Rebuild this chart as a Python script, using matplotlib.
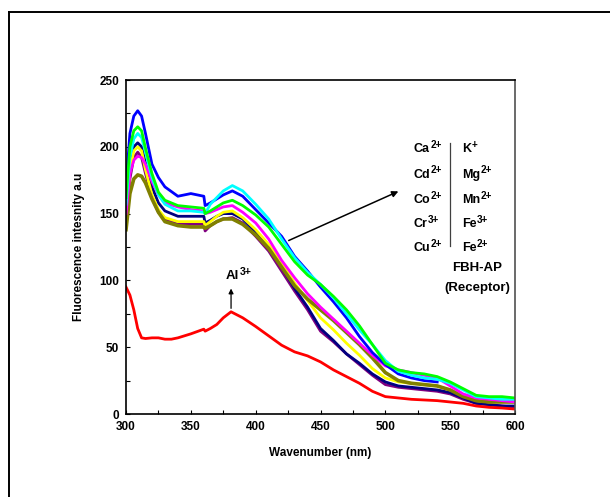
import numpy as np
import matplotlib
matplotlib.use('Agg')
import matplotlib.pyplot as plt
from matplotlib.lines import Line2D
from matplotlib.transforms import IdentityTransform

plt.rcParams['font.family'] = ['Liberation Sans', 'DejaVu Sans']
plt.rcParams['font.weight'] = 'bold'

# wavelength grid (nm) shared by the receptor + ion curves
wl = [300, 303, 306, 309, 312, 315, 320, 325, 330, 340, 350, 360, 361, 365, 370, 375, 382, 390,
      400, 410, 420, 430, 440, 450, 460, 470, 480, 490, 500, 510, 520, 530, 540, 550, 560, 570,
      580, 590, 600]

blue = [172, 210, 223, 227, 223, 210, 187, 177, 170, 163, 165, 163, 156, 158, 161, 164, 167, 163,
        153, 143, 133, 118, 107, 95, 84, 72, 58, 46, 37, 30, 27, 25, 24]
cyan = [157, 192, 206, 210, 207, 196, 177, 164, 157, 152, 152, 151, 150, 157, 162, 167, 171, 167,
        157, 146, 131, 117, 106, 97, 87, 75, 63, 52, 40, 32, 29, 27, 26, 23, 18, 13, 12, 11, 11]
green = [162, 200, 212, 215, 212, 199, 180, 166, 160, 156, 155, 154, 150, 152, 155, 158, 160, 156,
         149, 140, 127, 114, 104, 97, 88, 78, 66, 52, 38, 33, 31, 30, 28, 24, 19, 14, 13, 13, 12]
navy = [150, 186, 200, 203, 200, 188, 170, 158, 152, 148, 148, 148, 143, 145, 148, 150, 150, 146,
        136, 125, 110, 94, 80, 64, 55, 45, 38, 30, 24, 21, 20, 19, 18, 16, 12, 8, 7, 6, 6]
yellow = [145, 182, 197, 200, 197, 183, 164, 153, 147, 144, 144, 144, 141, 144, 148, 151, 152, 147,
          138, 127, 113, 98, 85, 72, 63, 53, 44, 34, 27, 24, 23, 22, 21, 18, 14, 10, 9, 9, 9]
magenta = [150, 180, 190, 193, 192, 187, 174, 164, 158, 155, 153, 152, 150, 151, 153, 155, 156, 151,
           143, 131, 115, 102, 90, 80, 71, 62, 53, 44, 36, 33, 31, 29, 27, 21, 15, 12, 11, 10, 9]
olive = [138, 165, 176, 179, 178, 173, 161, 151, 144, 141, 140, 140, 139, 141, 144, 146, 146, 142,
         134, 124, 110, 96, 86, 78, 70, 61, 52, 42, 31, 25, 23, 22, 21, 18, 13, 10, 9, 9, 9]
purple = [140, 176, 192, 196, 192, 180, 162, 151, 146, 142, 142, 142, 137, 141, 144, 146, 147, 143,
          133, 122, 107, 92, 78, 62, 54, 45, 37, 29, 22, 20, 19, 18, 17, 15, 11, 8, 7, 6, 5]

# Al3+ curve
wl_al = [300, 303, 306, 309, 312, 315, 320, 325, 330, 335, 340, 350, 360, 361, 365, 370, 375, 381,
         390, 400, 410, 420, 430, 440, 450, 460, 470, 480, 490, 500, 510, 520, 530, 540, 550, 560,
         570, 580, 590, 600]
al = [95, 89, 78, 64, 57, 56.5, 57, 57, 56, 56, 57, 60, 63.5, 62, 64, 67, 72, 76.5, 72, 65.5, 58.5,
      51.5, 46.5, 43.5, 39, 33, 28, 23, 17, 13, 12, 11, 10.5, 10, 9, 8, 6, 5, 4.5, 3.7]

ions_left = [('Ca', '2+'), ('Cd', '2+'), ('Co', '2+'), ('Cr', '3+'), ('Cu', '2+')]
ions_right = [('K', '+'), ('Mg', '2+'), ('Mn', '2+'), ('Fe', '3+'), ('Fe', '2+')]

fig = plt.figure(figsize=(6.1, 4.97), dpi=100)
ax = fig.add_axes([0.2066, 0.167, 0.6377, 0.672])
renderer = fig.canvas.get_renderer()


def ion_label(x, y, base, sup, size=9):
    # base symbol plus a raised charge, drawn as two texts
    t = ax.text(x, y, base, ha='left', va='center', fontsize=size, fontweight='bold')
    bb = t.get_window_extent(renderer)
    fig.text(bb.x1 + 0.5, bb.y0 + bb.height * 0.45, sup, transform=IdentityTransform(),
             ha='left', va='bottom', fontsize=size * 0.8, fontweight='bold')
    return t


# outer frame (partly cropped in the original)
fig.add_artist(Line2D([9/610, 1.0], [1 - 12/497, 1 - 12/497], transform=fig.transFigure,
                      color='black', lw=1.4))
fig.add_artist(Line2D([9/610, 9/610], [0.0, 1 - 12/497], transform=fig.transFigure,
                      color='black', lw=1.4))

lw = 2.0
ax.plot(wl, purple, color='#800080', lw=lw)
ax.plot(wl, navy, color='#000080', lw=lw)
ax.plot(wl, yellow, color='#FFFF00', lw=lw)
ax.plot(wl, olive, color='#808000', lw=lw + 0.6)
ax.plot(wl, magenta, color='#FF00FF', lw=lw)
ax.plot(wl[:len(blue)], blue, color='#0000FF', lw=lw)
ax.plot(wl, cyan, color='#00FFFF', lw=lw)
ax.plot(wl, green, color='#00FF00', lw=lw)
ax.plot(wl_al, al, color='#FF0000', lw=lw)

ax.set_xlim(300, 600)
ax.set_ylim(0, 250)
ax.set_xticks(np.arange(300, 601, 50))
ax.set_yticks(np.arange(0, 251, 50))
ax.set_xticks(np.arange(300, 601, 25), minor=True)
ax.set_yticks(np.arange(0, 251, 25), minor=True)
ax.tick_params(which='both', direction='in', length=3, width=0.8, labelsize=8.5, pad=5)
for lab in ax.get_xticklabels() + ax.get_yticklabels():
    lab.set_fontweight('bold')
for s in ['left', 'bottom', 'top']:
    ax.spines[s].set_linewidth(1.2)
ax.spines['right'].set_color('#505050')
ax.spines['right'].set_linewidth(1.2)

ax.set_xlabel('Wavenumber (nm)', fontsize=8.5, fontweight='bold', labelpad=10)
ax.set_ylabel('Fluorescence intesnity a.u', fontsize=8.5, fontweight='bold', labelpad=10)

# Al3+ marker
ax.annotate('', xy=(381, 96), xytext=(381, 77),
            arrowprops=dict(arrowstyle='-|>', color='black', lw=0.9, mutation_scale=7))
ion_label(377, 103, 'Al', '3+', size=9.5)

# arrow to ion list
ax.annotate('', xy=(512, 167.5), xytext=(423.5, 129),
            arrowprops=dict(arrowstyle='-|>', color='black', lw=1.1, mutation_scale=9))

rows = [198, 179, 160, 142, 124]
for y, a, b in zip(rows, ions_left, ions_right):
    ion_label(522, y, a[0], a[1])
    ion_label(559, y, b[0], b[1])
ax.plot([550, 550], [126, 203], color='#404040', lw=0.9)
ax.text(571, 109, 'FBH-AP', ha='center', va='center', fontsize=9.5, fontweight='bold')
ax.text(571, 94, '(Receptor)', ha='center', va='center', fontsize=9.5, fontweight='bold')

fig.savefig('out.png', dpi=100)
